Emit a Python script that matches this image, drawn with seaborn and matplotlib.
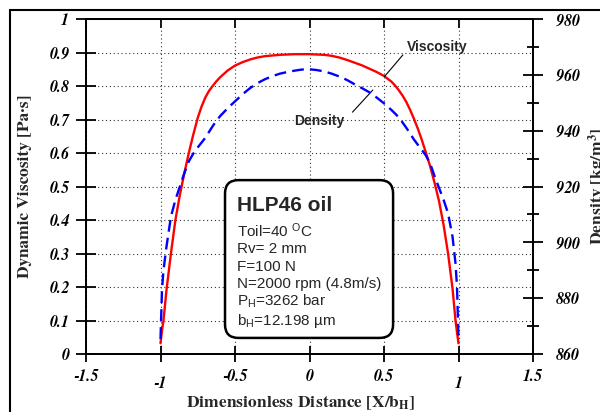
import numpy as np
import pandas as pd
import matplotlib
matplotlib.use("Agg")
import matplotlib.pyplot as plt
import seaborn as sns
from matplotlib.patches import FancyBboxPatch, Rectangle
from matplotlib.ticker import MultipleLocator, FuncFormatter
import matplotlib.transforms as mtransforms

# ---------------- data ----------------
x_pos = [-1, -0.99, -0.98, -0.96, -0.93, -0.9, -0.87, -0.84, -0.81, -0.78, -0.75,
         -0.725, -0.7, -0.675, -0.65, -0.625, -0.6, -0.55, -0.5, -0.45, -0.4, -0.35,
         -0.3, -0.25, -0.2, -0.15, -0.1, -0.05, 0, 0.05, 0.1, 0.15, 0.2, 0.25, 0.3,
         0.35, 0.4, 0.45, 0.5, 0.55, 0.575, 0.6, 0.625, 0.65, 0.675, 0.7, 0.725,
         0.75, 0.78, 0.81, 0.84, 0.87, 0.9, 0.93, 0.96, 0.98, 0.99, 1]
viscosity = [0.032, 0.07, 0.10, 0.19, 0.30, 0.40, 0.475, 0.54, 0.60, 0.655, 0.705,
             0.738, 0.765, 0.785, 0.80, 0.814, 0.826, 0.846, 0.861, 0.871, 0.879,
             0.885, 0.889, 0.891, 0.893, 0.894, 0.895, 0.895, 0.895, 0.894, 0.893,
             0.890, 0.885, 0.878, 0.870, 0.862, 0.852, 0.842, 0.83, 0.813, 0.801,
             0.787, 0.771, 0.752, 0.729, 0.703, 0.675, 0.644, 0.603, 0.56, 0.51,
             0.455, 0.385, 0.30, 0.195, 0.10, 0.065, 0.032]
density = [865.4, 883, 890, 898.4, 909.2, 915.2, 920, 924.8, 929, 931.8, 934,
           935.7, 937.4, 939.5, 941.6, 943.5, 945.2, 948, 950.5, 953, 955.2, 957,
           958.4, 959.5, 960.4, 961, 961.5, 961.9, 962, 961.7, 961.2, 960.4, 959.4,
           958.2, 956.7, 955.3, 953.8, 951.9, 949.8, 947.4, 946.1, 944.7, 942.9,
           941, 939, 936.9, 935.1, 933.4, 931.2, 928.2, 923.6, 919.4, 915.2, 910.4,
           902, 892.4, 884, 865.4]
x_ticks = [-1.5, -1, -0.5, 0, 0.5, 1, 1.5]
visc_ticks = [0, 0.1, 0.2, 0.3, 0.4, 0.5, 0.6, 0.7, 0.8, 0.9, 1]
dens_ticks = [860, 880, 900, 920, 940, 960, 980]
box_title = "HLP46 oil"
box_lines = ["Toil=40 $\\mathregular{^O}$C",
             "Rv= 2 mm",
             "F=100 N",
             "N=2000 rpm (4.8m/s)",
             "P$\\mathregular{_H}$=3262 bar",
             "b$\\mathregular{_H}$=12.198 \u00b5m"]

# ---------------- style ----------------
sns.set_theme(style="white")
plt.rcParams.update({
    "font.family": ["FreeSerif", "Liberation Serif", "DejaVu Serif"],
    "font.style": "italic",
    "font.weight": "bold",
    "font.size": 11,
    "xtick.labelsize": 11.5,
    "ytick.labelsize": 11.5,
    "axes.edgecolor": "black",
    "axes.linewidth": 1.3,
    "xtick.color": "black",
    "ytick.color": "black",
})

W, H = 600, 412
fig = plt.figure(figsize=(6, 4.12), dpi=100)
ax = fig.add_axes([86 / W, 1 - 354 / H, 447 / W, 335 / H])

df = pd.DataFrame({"x": x_pos, "viscosity": viscosity, "density": density})
sns.lineplot(data=df, x="x", y="viscosity", ax=ax, color="#ff0000", lw=1.7,
             sort=False, estimator=None)
ax.set_xlim(-1.5, 1.5)
ax.set_ylim(0, 1)
ax.set_xlabel("")
ax.set_ylabel("")

ax2 = ax.twinx()
sns.lineplot(data=df, x="x", y="density", ax=ax2, color="#0000ff", lw=1.7,
             sort=False, estimator=None)
ax2.lines[0].set_dashes([5.0, 2.6])
ax2.set_ylim(860, 980)
ax2.set_ylabel("")

fmt = FuncFormatter(lambda v, p: f"{v:g}")

ax.set_xticks(x_ticks)
ax.set_yticks(visc_ticks)
ax.xaxis.set_major_formatter(fmt)
ax.yaxis.set_major_formatter(fmt)
ax2.set_yticks(dens_ticks)
ax2.yaxis.set_minor_locator(MultipleLocator(10))
ax2.yaxis.set_major_formatter(fmt)

ax.grid(True, which="major", linestyle=(0, (1, 2.5)), color="#333333", lw=0.8)
ax.set_axisbelow(True)

ax.tick_params(axis="y", which="major", direction="inout", length=14.4, width=1.3,
               pad=4.8, left=True, right=False)
ax.tick_params(axis="x", which="major", direction="inout", length=11, width=1.3,
               pad=5, bottom=True, top=False)
ax2.tick_params(axis="y", which="major", direction="inout", length=14.4, width=1.3,
                pad=9, right=True)
ax2.tick_params(axis="y", which="minor", direction="inout", length=8, width=1.3,
                right=True)

sec = ax.secondary_xaxis("top")
sec.set_xticks(x_ticks)
sec.tick_params(axis="x", direction="in", length=6.5, width=1.3, labeltop=False)

for a in (ax, ax2):
    for s in a.spines.values():
        s.set_color("black")
        s.set_linewidth(1.3)
        s.set_visible(True)

# stagger the -1 and 1 labels slightly lower (as in reference)
offset = mtransforms.ScaledTranslation(0, -7 / 100, fig.dpi_scale_trans)
ticks = ax.xaxis.get_major_ticks()
for i, v in enumerate(x_ticks):
    if v in (-1, 1) and i < len(ticks):
        ticks[i].label1.set_transform(ticks[i].label1.get_transform() + offset)

# axis labels
lab_font = dict(family=["FreeSerif", "Liberation Serif"], weight="bold",
                style="normal", size=12.5)
fig.text(25 / W, 1 - 186.5 / H, "Dynamic Viscosity [Pa\u00b7s]", rotation=90,
         ha="center", va="center", **lab_font)
fig.text(598 / W, 1 - 186.5 / H, "Density [kg/m$\\mathregular{^3}$]", rotation=90,
         ha="center", va="center", **lab_font)
fig.text(301 / W, 1 - 407 / H, "Dimensionless Distance [X/b$\\mathregular{_H}$]",
         ha="center", va="baseline", **lab_font)

# annotations
ann_font = dict(family="Liberation Sans", weight="bold", style="normal", size=10)
ax.annotate("Viscosity", xy=(0.503, 0.828), xytext=(0.655, 0.916),
            ha="left", va="center",
            arrowprops=dict(arrowstyle="-", lw=0.8, color="black",
                            relpos=(0, 0.3), shrinkA=1, shrinkB=0),
            **ann_font)
ax.annotate("Density", xy=(0.425, 0.788), xytext=(0.235, 0.696),
            ha="right", va="center",
            arrowprops=dict(arrowstyle="-", lw=0.8, color="black",
                            relpos=(1, 0.5), shrinkA=5, shrinkB=0),
            **ann_font)

# info box
box = FancyBboxPatch((0.311, 0.048), 0.376, 0.471,
                     boxstyle="round,pad=0,rounding_size=0.03",
                     mutation_aspect=447 / 335,
                     transform=ax2.transAxes, facecolor="white",
                     edgecolor="black", lw=1.8, zorder=5)
ax2.add_patch(box)
ax2.text(0.337, 0.428, box_title, transform=ax2.transAxes, ha="left",
         va="baseline", family="Liberation Sans", weight="bold", style="normal",
         size=15, zorder=6)
line_y = [0.350, 0.3006, 0.2487, 0.196, 0.143, 0.0866]
for txt, yy in zip(box_lines, line_y):
    ax2.text(0.337, yy, txt, transform=ax2.transAxes, ha="left", va="baseline",
             family="Liberation Sans", weight="normal", style="normal", size=11,
             zorder=6)

# figure frame
fig.patches.append(Rectangle((10 / W, -0.1), 1.2, 1 - 10 / H + 0.1,
                             transform=fig.transFigure, fill=False,
                             lw=1.5, ec="black"))

fig.savefig("out.png", dpi=100)
